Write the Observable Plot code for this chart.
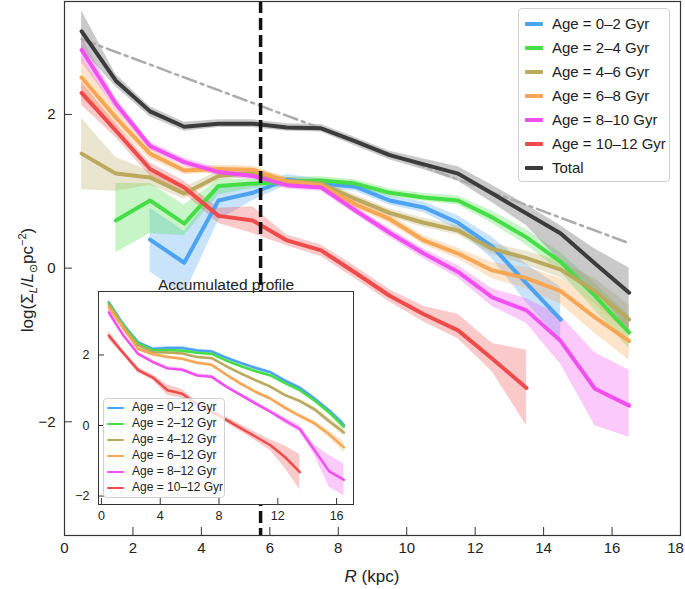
<!DOCTYPE html>
<html><head><meta charset="utf-8">
<script src="https://cdn.jsdelivr.net/npm/d3@7"></script>
<script src="https://cdn.jsdelivr.net/npm/@observablehq/plot@0.6"></script>
<style>
body{margin:0;background:#fff;font-family:"Liberation Sans",Arial,sans-serif;color:#222;}
#wrap{position:relative;width:685px;height:589px;overflow:hidden;}
#wrap > svg, #wrap > div{position:absolute;}
.legend{background:rgba(255,255,255,0.8);border:1px solid #d0d0d0;border-radius:4px;box-sizing:border-box;}
.legend .sw{position:absolute;border-radius:1px;}
.legend .tx{position:absolute;line-height:1;white-space:nowrap;}
</style></head>
<body><div id="wrap"></div>
<script>
// ---------- data ----------
const R = [0.5,1.5,2.5,3.5,4.5,5.5,6.5,7.5,8.5,9.5,10.5,11.5,12.5,13.5,14.5,15.5,16.5];
const xTicks = [0,2,4,6,8,10,12,14,16];
const xTickLast = [18];
const yTicks = [-2,0,2];
const insetXTicks = [0,4,8,12,16];
const insetYTicks = [-2,0,2];

const seriesLabels = ["Age = 0–2 Gyr","Age = 2–4 Gyr","Age = 4–6 Gyr","Age = 6–8 Gyr","Age = 8–10 Gyr","Age = 10–12 Gyr","Total"];
const insetLabels = ["Age = 0–12 Gyr","Age = 2–12 Gyr","Age = 4–12 Gyr","Age = 6–12 Gyr","Age = 8–12 Gyr","Age = 10–12 Gyr"];
const seriesColors = ["#4ba3f2","#46de46","#bba95e","#f7a653","#f24ff0","#f04b4b","#3c3c3c"];

const age0_2    = [null,null,0.37,0.07,0.88,0.98,1.15,1.10,1.06,0.88,0.79,0.59,0.28,-0.20,-0.67,null,null];
const age0_2Lo  = [null,null,-0.05,-0.35,0.62,0.88,1.08,1.04,1.00,0.82,0.72,0.50,0.12,-0.45,-0.95,null,null];
const age0_2Hi  = [null,null,0.78,0.48,1.05,1.07,1.22,1.16,1.12,0.94,0.86,0.68,0.40,0.05,-0.25,null,null];

const age2_4    = [null,0.62,0.88,0.58,1.07,1.10,1.12,1.14,1.10,0.98,0.92,0.88,0.66,0.40,0.08,-0.36,-0.84];
const age2_4Lo  = [null,0.20,0.45,0.42,0.95,1.04,1.06,1.09,1.05,0.93,0.87,0.82,0.58,0.30,-0.05,-0.55,-1.05];
const age2_4Hi  = [null,1.10,1.10,0.82,1.15,1.16,1.18,1.19,1.15,1.03,0.97,0.94,0.74,0.50,0.20,-0.20,-0.62];

const age4_6    = [1.49,1.23,1.18,0.97,1.20,1.24,1.13,1.10,0.90,0.72,0.59,0.49,0.25,0.13,-0.02,-0.30,-0.67];
const age4_6Lo  = [1.02,1.00,1.08,0.90,1.14,1.19,1.08,1.05,0.85,0.67,0.53,0.43,0.18,0.04,-0.13,-0.46,-0.86];
const age4_6Hi  = [1.95,1.44,1.26,1.05,1.26,1.29,1.18,1.15,0.95,0.77,0.65,0.55,0.32,0.22,0.09,-0.14,-0.48];

const age6_8    = [2.48,1.96,1.49,1.27,1.29,1.28,1.13,1.08,0.83,0.64,0.36,0.19,-0.03,-0.13,-0.30,-0.64,-0.95];
const age6_8Lo  = [2.20,1.85,1.42,1.22,1.24,1.23,1.08,1.03,0.78,0.58,0.30,0.12,-0.14,-0.27,-0.47,-0.85,-1.20];
const age6_8Hi  = [2.75,2.08,1.56,1.32,1.34,1.33,1.18,1.13,0.88,0.70,0.42,0.26,0.07,0.01,-0.14,-0.44,-0.72];

const age8_10   = [2.84,2.14,1.59,1.38,1.25,1.20,1.08,1.05,0.75,0.46,0.19,-0.05,-0.38,-0.55,-0.95,-1.57,-1.79];
const age8_10Lo = [2.68,2.07,1.54,1.33,1.20,1.15,1.03,1.00,0.70,0.40,0.12,-0.13,-0.50,-0.72,-1.25,-2.05,-2.20];
const age8_10Hi = [3.00,2.21,1.64,1.43,1.30,1.25,1.13,1.10,0.80,0.52,0.25,0.03,-0.27,-0.40,-0.62,-1.10,-1.33];

const age10_12   = [2.28,1.79,1.29,1.05,0.68,0.62,0.36,0.23,-0.06,-0.36,-0.60,-0.81,-1.18,-1.56,null,null,null];
const age10_12Lo = [2.12,1.70,1.20,0.97,0.58,0.45,0.29,0.15,-0.14,-0.44,-0.70,-0.92,-1.35,-2.05,null,null,null];
const age10_12Hi = [2.42,1.88,1.37,1.13,0.78,0.80,0.43,0.30,0.02,-0.28,-0.50,-0.60,-0.98,-1.07,null,null,null];

const total   = [3.08,2.44,2.04,1.84,1.88,1.88,1.83,1.82,1.65,1.47,1.35,1.23,0.97,0.71,0.45,0.06,-0.32];
const totalLo = [2.85,2.36,1.97,1.78,1.83,1.83,1.78,1.77,1.59,1.41,1.28,1.13,0.85,0.55,0.08,-0.30,-0.80];
const totalHi = [3.35,2.52,2.10,1.90,1.93,1.93,1.88,1.87,1.70,1.52,1.42,1.32,1.08,0.82,0.55,0.25,0.00];

const refR = [0.5, 16.4];
const refV = [2.98, 0.34];
const rSun = 5.73;

// inset: accumulated profiles
const cum0  = [3.49,2.86,2.36,2.17,2.20,2.20,2.13,2.10,1.92,1.77,1.63,1.51,1.27,1.07,0.76,0.42,0.02];
const cum2  = [3.47,2.84,2.33,2.13,2.14,2.12,2.06,2.03,1.84,1.68,1.54,1.42,1.20,1.00,0.71,0.37,-0.03];
const cum4  = [3.43,2.80,2.27,2.08,2.07,2.04,1.94,1.91,1.68,1.47,1.28,1.10,0.86,0.69,0.46,0.12,-0.20];
const cum6  = [3.36,2.74,2.17,2.02,1.94,1.89,1.78,1.72,1.44,1.18,0.95,0.76,0.50,0.27,0.06,-0.25,-0.62];
const cum8  = [3.21,2.55,2.03,1.80,1.62,1.58,1.42,1.38,1.10,0.86,0.62,0.39,0.14,-0.10,-0.70,-1.30,-1.54];
const cum10 = [2.55,2.05,1.57,1.36,1.00,0.90,0.60,0.40,0.16,-0.08,-0.32,-0.56,-0.90,-1.32,null,null,null];
const cum0Err  = [0.08,0.05,0.04,0.04,0.04,0.04,0.04,0.04,0.04,0.04,0.04,0.04,0.05,0.05,0.06,0.07,0.10];
const cum2Err  = [0.08,0.05,0.04,0.04,0.04,0.04,0.04,0.04,0.04,0.04,0.04,0.04,0.05,0.05,0.06,0.07,0.10];
const cum4Err  = [0.08,0.05,0.04,0.04,0.04,0.04,0.04,0.04,0.04,0.04,0.04,0.05,0.05,0.05,0.07,0.08,0.10];
const cum6Err  = [0.10,0.05,0.04,0.04,0.04,0.04,0.04,0.04,0.04,0.05,0.05,0.05,0.06,0.06,0.08,0.10,0.15];
const cum8Err  = [0.10,0.05,0.05,0.05,0.05,0.05,0.05,0.05,0.05,0.05,0.06,0.06,0.08,0.10,0.15,0.45,0.45];
const cum10Err = [0.12,0.07,0.08,0.08,0.15,0.12,0.08,0.08,0.08,0.10,0.12,0.15,0.32,0.50,null,null,null];

// ---------- build ----------
function rowsLH(v, lo, hi){ return R.map((r,i)=>({R:r, v:v[i], lo:lo[i], hi:hi[i]})).filter(d=>d.v!=null); }
function rowsErr(v, e){ return R.map((r,i)=>({R:r, v:v[i], lo:v[i]-e[i], hi:v[i]+e[i]})).filter(d=>d.v!=null); }
const fmt = d => d < 0 ? "−" + Math.abs(d) : String(d);

const mainSeries = [
  rowsLH(age0_2, age0_2Lo, age0_2Hi),
  rowsLH(age2_4, age2_4Lo, age2_4Hi),
  rowsLH(age4_6, age4_6Lo, age4_6Hi),
  rowsLH(age6_8, age6_8Lo, age6_8Hi),
  rowsLH(age8_10, age8_10Lo, age8_10Hi),
  rowsLH(age10_12, age10_12Lo, age10_12Hi),
  rowsLH(total, totalLo, totalHi)
];
const insetSeries = [
  rowsErr(cum0, cum0Err), rowsErr(cum2, cum2Err), rowsErr(cum4, cum4Err),
  rowsErr(cum6, cum6Err), rowsErr(cum8, cum8Err), rowsErr(cum10, cum10Err)
];
const refRows = refR.map((r,i)=>({R:r, v:refV[i]}));

const font = "Liberation Sans, Arial, sans-serif";
const bands = mainSeries.map((d,i)=>Plot.areaY(d,{x:"R", y1:"lo", y2:"hi", fill: i===6 ? "#888" : seriesColors[i], fillOpacity: i===6 ? 0.45 : 0.3}));
const lines = mainSeries.map((d,i)=>Plot.line(d,{x:"R", y:"v", stroke: seriesColors[i], strokeWidth:4, strokeLinejoin:"round"}));

const main = Plot.plot({
  width:685, height:589,
  marginLeft:64, marginRight:5, marginTop:1, marginBottom:54,
  style:{fontFamily:font, fontSize:"15px", color:"#222", background:"transparent"},
  x:{domain:[0,18]},
  y:{domain:[-3.48,3.47]},
  marks:[
    ...bands,
    Plot.line(refRows,{x:"R", y:"v", stroke:"#ababab", strokeWidth:2.5, strokeDasharray:"14,5,3,5"}),
    ...lines,
    Plot.ruleX([rSun],{stroke:"#111", strokeWidth:3.5, strokeDasharray:"12,5"}),
    Plot.frame({stroke:"#333", strokeWidth:1.2}),
    Plot.axisX(xTicks,{tickSize:-8, tickPadding:15, label:null, stroke:"#333", tickFormat:fmt}),
    Plot.axisX(xTickLast,{tickSize:0, tickPadding:7, label:null, tickFormat:fmt, dx:-5}),
    Plot.axisY(yTicks,{tickSize:-8, tickPadding:17, label:null, stroke:"#333", tickFormat:fmt})
  ]
});

const ibands = insetSeries.map((d,i)=>Plot.areaY(d,{x:"R", y1:"lo", y2:"hi", fill: seriesColors[i], fillOpacity:0.3}));
const ilines = insetSeries.map((d,i)=>Plot.line(d,{x:"R", y:"v", stroke: seriesColors[i], strokeWidth:2.5, strokeLinejoin:"round"}));
const inset = Plot.plot({
  width:300, height:264,
  marginLeft:38, marginRight:7, marginTop:26, marginBottom:25,
  style:{fontFamily:font, fontSize:"12.5px", color:"#222", background:"transparent", overflow:"visible"},
  x:{domain:[-0.2,17.15]},
  y:{domain:[-2.24,3.8]},
  marks:[
    Plot.frame({fill:"white"}),
    ...ibands,
    ...ilines,
    Plot.frame({stroke:"#333"}),
    Plot.axisX(insetXTicks,{tickSize:-6, tickPadding:13, label:null, stroke:"#333", tickFormat:fmt}),
    Plot.axisY(insetYTicks,{tickSize:-6, tickPadding:15, label:null, stroke:"#333", tickFormat:fmt}),
    Plot.text(["Accumulated profile"],{frameAnchor:"top", dy:-13, fontSize:15.5, fill:"#222"})
  ]
});

const wrap = document.getElementById("wrap");
main.style.left = "0px"; main.style.top = "0px";
wrap.appendChild(main);
inset.style.left = "60px"; inset.style.top = "265px";
wrap.appendChild(inset);

// axis titles
const ylab = document.createElement("div");
ylab.innerHTML = 'log(Σ<sub style="font-size:11px"><i>L</i></sub>/<i>L</i><sub style="font-size:11px">⊙</sub>pc<sup style="font-size:11px">−2</sup>)';
Object.assign(ylab.style,{left:(22-90)+"px", top:(280-12)+"px", width:"180px", height:"24px", lineHeight:"24px", textAlign:"center", transform:"rotate(-90deg)", transformOrigin:"50% 50%", fontSize:"17px", whiteSpace:"nowrap"});
wrap.appendChild(ylab);
const xlab = document.createElement("div");
xlab.innerHTML = '<i>R</i> (kpc)';
Object.assign(xlab.style,{left:(372-60)+"px", top:(577-12)+"px", width:"120px", height:"24px", lineHeight:"24px", textAlign:"center", fontSize:"17px", whiteSpace:"nowrap"});
wrap.appendChild(xlab);

// legends
function makeLegend(labels, cfg){
  const box = document.createElement("div");
  box.className = "legend";
  Object.assign(box.style,{left:cfg.left+"px", top:cfg.top+"px", width:cfg.w+"px", height:cfg.h+"px"});
  labels.forEach((lab,i)=>{
    const cy = cfg.first + i*cfg.step;
    const sw = document.createElement("div"); sw.className="sw";
    Object.assign(sw.style,{left:cfg.swL+"px", top:(cy-cfg.lw/2)+"px", width:cfg.swW+"px", height:cfg.lw+"px", background:seriesColors[i]});
    const tx = document.createElement("div"); tx.className="tx"; tx.textContent = lab;
    Object.assign(tx.style,{left:cfg.txL+"px", top:(cy-cfg.fs*0.55)+"px", fontSize:cfg.fs+"px"});
    box.appendChild(sw); box.appendChild(tx);
  });
  wrap.appendChild(box);
}
makeLegend(seriesLabels,{left:518, top:8, w:152, h:174, first:15, step:24, swL:6, swW:18, lw:4, txL:33, fs:15});
makeLegend(insetLabels,{left:103, top:398, w:122, h:100, first:9, step:16, swL:3, swW:17, lw:2.5, txL:28, fs:12});
</script></body></html>
